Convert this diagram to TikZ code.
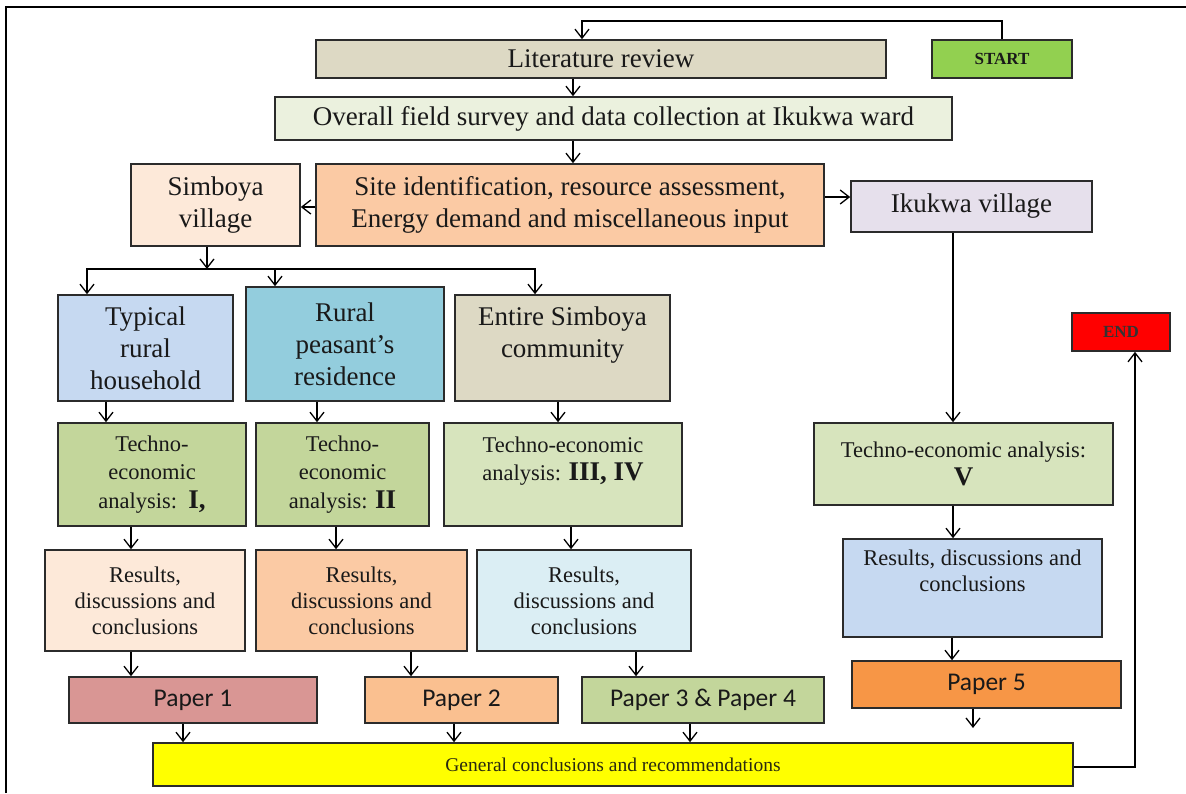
\documentclass[tikz,border=0pt]{standalone}
\usepackage{fontspec}
\setmainfont{Liberation Serif}
\newfontfamily\timesrm{Liberation Serif}
\newfontfamily\paperfont{Carlito}
\usetikzlibrary{arrows.meta}

\definecolor{boxline}{HTML}{2B2B2B}
\definecolor{tanc}{HTML}{DDD9C4}
\definecolor{startc}{HTML}{92D050}
\definecolor{surveyc}{HTML}{EBF1DE}
\definecolor{peachc}{HTML}{FBCAA4}
\definecolor{palepeach}{HTML}{FDE9D9}
\definecolor{lilacc}{HTML}{E6E0EC}
\definecolor{paleblue}{HTML}{C6D9F1}
\definecolor{tealc}{HTML}{93CDDD}
\definecolor{olivec}{HTML}{C3D69B}
\definecolor{paleolive}{HTML}{D7E4BD}
\definecolor{icec}{HTML}{DBEEF4}
\definecolor{rosec}{HTML}{D99694}
\definecolor{apricot}{HTML}{FAC090}
\definecolor{orangec}{HTML}{F79646}
\definecolor{genc}{HTML}{FFFF00}
\definecolor{endc}{HTML}{FF0000}
\definecolor{gentext}{HTML}{2A2A10}

\begin{document}
\begin{tikzpicture}[x=1pt,y=-1pt,
  box/.style={draw=boxline,line width=1.6pt,inner sep=2pt,align=center,text=black!90},
  bigtext/.style={font=\timesrm\fontsize{27}{32}\selectfont},
  midtext/.style={font=\timesrm\fontsize{22.5}{28.5}\selectfont},
  restext/.style={font=\timesrm\fontsize{22.5}{26}\selectfont},
  papertext/.style={font=\paperfont\fontsize{25.5}{29}\selectfont},
  tagtext/.style={font=\timesrm\bfseries\fontsize{17}{20}\selectfont},
  numeral/.style={},
  arr/.style={draw=black,line width=1.3pt,-{Straight Barb[length=9pt,width=14pt]}}]

\useasboundingbox (0,0) rectangle (1186,793);
% page frame
\draw[line width=2pt] (6,793) -- (6,7) -- (1186,7);

% top row
\node[box,bigtext,fill=tanc,minimum width=570,minimum height=38] (lit) at (601,59) {Literature review};
\node[box,tagtext,fill=startc,minimum width=140,minimum height=38] (start) at (1002,59) {START};
\node[box,bigtext,fill=surveyc,minimum width=677,minimum height=43] (survey) at (613.5,118.5)
  {Overall field survey and data collection at Ikukwa ward};
\node[box,bigtext,fill=peachc,minimum width=508,minimum height=82] (site) at (570,205)
  {Site identification, resource assessment,\\Energy demand and miscellaneous input};
\node[box,bigtext,fill=palepeach,minimum width=169,minimum height=82] (simb) at (215.5,205)
  {Simboya\\village};
\node[box,bigtext,fill=lilacc,minimum width=241,minimum height=51] (ikuk) at (971.5,206.5)
  {Ikukwa village};

% case studies
\node[box,bigtext,fill=paleblue,minimum width=175,minimum height=106] (typ) at (145.5,348)
  {Typical\\rural\\household};
\node[box,bigtext,fill=tealc,minimum width=198,minimum height=114] (rur) at (345,344)
  {Rural\\peasant’s\\residence};
\node[box,bigtext,fill=tanc,minimum width=215,minimum height=106,text depth=32pt] (ent) at (562.5,348)
  {Entire Simboya\\community};

% analyses
\node[box,midtext,fill=olivec,minimum width=188,minimum height=103] (t1) at (152,474.5)
  {Techno-\\economic\\analysis:\enspace{\bfseries\fontsize{27}{29}\selectfont I,}};
\node[box,midtext,fill=olivec,minimum width=173,minimum height=103] (t2) at (342.5,474.5)
  {Techno-\\economic\\analysis: {\bfseries\fontsize{27}{29}\selectfont II}};
\node[box,midtext,fill=paleolive,minimum width=238,minimum height=103,text depth=32pt] (t3) at (563,474.5)
  {Techno-economic\\analysis: {\bfseries\fontsize{27}{29}\selectfont III, IV}};
\node[box,midtext,fill=paleolive,minimum width=299,minimum height=82] (t5) at (963.5,464)
  {Techno-economic analysis:\\{\bfseries\fontsize{27}{31}\selectfont V}};

% results
\node[box,restext,fill=palepeach,minimum width=200,minimum height=101] (r1) at (145,600.5)
  {Results,\\discussions and\\conclusions};
\node[box,restext,fill=peachc,minimum width=211,minimum height=101] (r2) at (361.5,600.5)
  {Results,\\discussions and\\conclusions};
\node[box,restext,fill=icec,minimum width=214,minimum height=101] (r3) at (584,600.5)
  {Results,\\discussions and\\conclusions};
\node[box,restext,fill=paleblue,minimum width=259,minimum height=98,text depth=34pt] (r5) at (972.5,588)
  {Results, discussions and\\conclusions};

% papers
\node[box,papertext,fill=rosec,minimum width=248,minimum height=46] (p1) at (193,700) {Paper 1};
\node[box,papertext,fill=apricot,minimum width=193,minimum height=46] (p2) at (461.5,700) {Paper 2};
\node[box,papertext,fill=olivec,minimum width=242,minimum height=46] (p34) at (703,700) {Paper 3 \& Paper 4};
\node[box,papertext,fill=orangec,minimum width=269,minimum height=47] (p5) at (986.5,684.5) {Paper 5};

% closing
\node[box,fill=genc,minimum width=920,minimum height=43,text=gentext,
  font=\timesrm\fontsize{19.5}{23}\selectfont] (gen) at (613,764.5)
  {General conclusions and recommendations};
\node[box,tagtext,fill=endc,text=black!80,minimum width=98,minimum height=38] (end) at (1121,332) {END};

% connectors
\coordinate (topturn) at (1002,21);
\draw[arr] (start.north) -- (topturn) -| ([xshift=-19pt]lit.north);
\draw[arr] ([xshift=-28pt]lit.south) -- ([xshift=-28pt]lit.south |- survey.north);
\draw[arr] ([xshift=-40.5pt]survey.south) -- ([xshift=-40.5pt]survey.south |- site.north);
\draw[arr] ([yshift=-2pt]site.west) -- ([yshift=-2pt]site.west -| simb.east);
\draw[arr] ([yshift=8pt]site.east) -- ([yshift=8pt]site.east -| ikuk.west);

\coordinate (split) at (207,269);
\draw[arr] ([xshift=-8.5pt]simb.south) -- (split);
\draw[arr] (split) -| ([xshift=-58.5pt]typ.north);
\draw[arr] (split) -| ([xshift=-70pt]rur.north);
\draw[arr] (split) -| ([xshift=-27.5pt]ent.north);

\draw[arr] ([xshift=-39.5pt]typ.south) -- ([xshift=-39.5pt]typ.south |- t1.north);
\draw[arr] ([xshift=-28pt]rur.south) -- ([xshift=-28pt]rur.south |- t2.north);
\draw[arr] ([xshift=-4.5pt]ent.south) -- ([xshift=-4.5pt]ent.south |- t3.north);
\draw[arr] ([xshift=-18.5pt]ikuk.south) -- ([xshift=-18.5pt]ikuk.south |- t5.north);

\draw[arr] ([xshift=-21pt]t1.south) -- ([xshift=-21pt]t1.south |- r1.north);
\draw[arr] ([xshift=-6.5pt]t2.south) -- ([xshift=-6.5pt]t2.south |- r2.north);
\draw[arr] ([xshift=8pt]t3.south) -- ([xshift=8pt]t3.south |- r3.north);
\draw[arr] ([xshift=-10.5pt]t5.south) -- ([xshift=-10.5pt]t5.south |- r5.north);

\draw[arr] ([xshift=-14pt]r1.south) -- ([xshift=-14pt]r1.south |- p1.north);
\draw[arr] ([xshift=49.5pt]r2.south) -- ([xshift=49.5pt]r2.south |- p2.north);
\draw[arr] ([xshift=52pt]r3.south) -- ([xshift=52pt]r3.south |- p34.north);
\draw[arr] ([xshift=-20.5pt]r5.south) -- ([xshift=-20.5pt]r5.south |- p5.north);

\draw[arr] ([xshift=-10pt]p1.south) -- ([xshift=-10pt]p1.south |- gen.north);
\draw[arr] ([xshift=-7.5pt]p2.south) -- ([xshift=-7.5pt]p2.south |- gen.north);
\draw[arr] ([xshift=-13pt]p34.south) -- ([xshift=-13pt]p34.south |- gen.north);
\coordinate (p5foot) at (973,728);
\draw[arr] ([xshift=-13.5pt]p5.south) -- (p5foot);

\coordinate (endturn) at (1135,767);
\draw[arr] ([yshift=-2.5pt]gen.east) -- (endturn) -- ([xshift=14pt]end.south);
\end{tikzpicture}
\end{document}
